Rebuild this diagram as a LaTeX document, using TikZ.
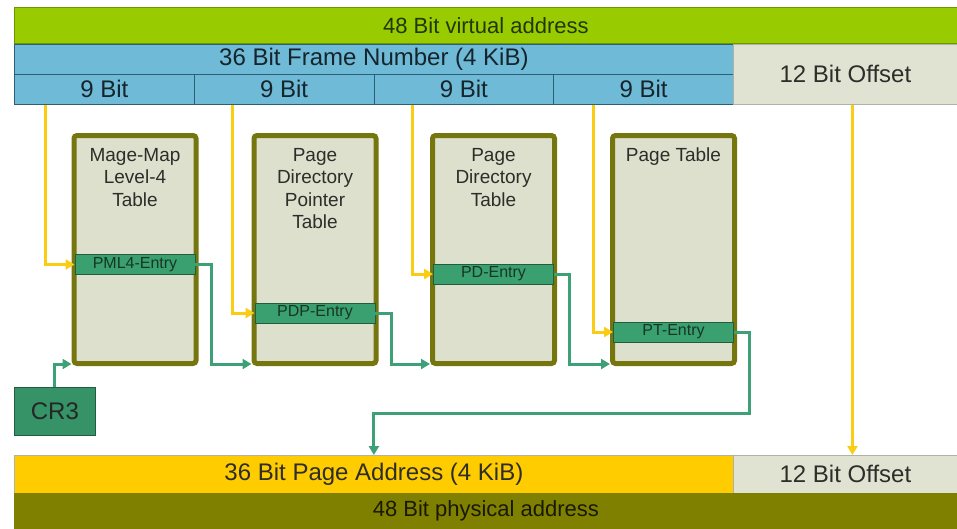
\documentclass[tikz,border=0pt]{standalone}
\usepackage{fontspec}
\setmainfont{Liberation Sans}
\usetikzlibrary{arrows.meta}

\definecolor{virtgreen}{RGB}{153,204,0}
\definecolor{virtedge}{RGB}{110,150,0}
\definecolor{virttext}{RGB}{34,54,6}
\definecolor{frameblue}{RGB}{111,186,214}
\definecolor{frameedge}{RGB}{45,95,115}
\definecolor{frametext}{RGB}{22,36,44}
\definecolor{offsetfill}{RGB}{224,226,210}
\definecolor{offsetedge}{RGB}{175,178,165}
\definecolor{tablefill}{RGB}{220,224,204}
\definecolor{tableedge}{RGB}{118,118,14}
\definecolor{entryfill}{RGB}{58,160,112}
\definecolor{entryedge}{RGB}{36,92,62}
\definecolor{linkgreen}{RGB}{62,160,118}
\definecolor{idxyellow}{RGB}{250,204,20}
\definecolor{pageyellow}{RGB}{255,204,0}
\definecolor{physolive}{RGB}{128,128,0}
\definecolor{labeltext}{RGB}{45,45,42}

\begin{document}
\begin{tikzpicture}[x=1pt,y=-1pt,
  bar/.style={draw=#1, line width=0.8pt, inner sep=0pt, anchor=north west},
  bigtxt/.style={font=\fontsize{24}{28}\selectfont},
  midtxt/.style={font=\fontsize{22}{26}\selectfont},
  tablebox/.style={draw=tableedge, line width=5pt, fill=tablefill, rounded corners=3pt,
    minimum width=122pt, minimum height=228pt, inner sep=0pt},
  tablelabel/.style={anchor=north, align=center, inner sep=0pt, text=labeltext,
    font=\fontsize{19}{22.5}\selectfont},
  entry/.style={fill=entryfill, draw=entryedge, line width=0.9pt, minimum width=120pt,
    minimum height=20pt, inner sep=0pt, text=entryedge!60!black,
    font=\fontsize{16}{16}\selectfont},
  idx/.style={draw=idxyellow, line width=3pt, -{Triangle[length=9pt,width=10pt]}},
  link/.style={draw=linkgreen, line width=3pt, -{Triangle[length=9pt,width=10pt]}}
]
\useasboundingbox (0,0) rectangle (957,528);

% virtual address layout
\node[bar=virtedge, fill=virtgreen, minimum width=943pt, minimum height=36pt, text=virttext, midtxt]
  (va) at (14,7) {48 Bit virtual address};
\node[bar=frameedge, fill=frameblue, minimum width=719pt, minimum height=30pt, text=frametext, bigtxt]
  (fn) at (14,44) {36 Bit Frame Number (4 KiB)};
\node[bar=frameedge, fill=frameblue, minimum width=179.75pt, minimum height=30pt, text=frametext, bigtxt]
  (b1) at (14,74) {9 Bit};
\node[bar=frameedge, fill=frameblue, minimum width=179.75pt, minimum height=30pt, text=frametext, bigtxt]
  (b2) at (193.75,74) {9 Bit};
\node[bar=frameedge, fill=frameblue, minimum width=179.75pt, minimum height=30pt, text=frametext, bigtxt]
  (b3) at (373.5,74) {9 Bit};
\node[bar=frameedge, fill=frameblue, minimum width=179.75pt, minimum height=30pt, text=frametext, bigtxt]
  (b4) at (553.25,74) {9 Bit};
\node[bar=offsetedge, fill=offsetfill, minimum width=224pt, minimum height=60pt, text=labeltext, bigtxt]
  (off) at (733,44) {12 Bit Offset};

% the four paging tables
\node[tablebox] (t1) at (135,249.5) {};
\node[tablebox] (t2) at (315,249.5) {};
\node[tablebox] (t3) at (493.5,249.5) {};
\node[tablebox] (t4) at (673.5,249.5) {};

\node[tablelabel] (t1lab) at ([yshift=-15pt]t1.north) {Mage-Map\\Level-4\\Table};
\node[tablelabel] (t2lab) at ([yshift=-15pt]t2.north) {Page\\Directory\\Pointer\\Table};
\node[tablelabel] (t3lab) at ([yshift=-15pt]t3.north) {Page\\Directory\\Table};
\node[tablelabel] (t4lab) at ([yshift=-15pt]t4.north) {Page Table};

\node[entry] (e1) at (135,264.5) {PML4-Entry};
\node[entry] (e2) at (315,313) {PDP-Entry};
\node[entry] (e3) at (493.5,274) {PD-Entry};
\node[entry] (e4) at (673.5,332) {PT-Entry};

% control register
\node[bar=entryedge, fill=entryfill!92!black, minimum width=81pt, minimum height=48pt,
  text=black!85, bigtxt] (cr3) at (14,387) {CR3};

% physical address layout
\node[bar=offsetedge, fill=pageyellow, minimum width=719pt, minimum height=38pt, text=labeltext, bigtxt]
  (pa) at (14,455) {36 Bit Page Address (4 KiB)};
\node[bar=offsetedge, fill=offsetfill, minimum width=224pt, minimum height=38pt, text=labeltext, bigtxt]
  (off2) at (733,455) {12 Bit Offset};
\node[bar=physolive, fill=physolive, minimum width=943pt, minimum height=35pt, text=black!80!physolive, midtxt]
  (phys) at (14,493) {48 Bit physical address};

% index bits select the entries
\draw[idx] ([xshift=31pt]b1.south west) |- (e1.west);
\draw[idx] ([xshift=39pt]b2.south west) |- (e2.west);
\draw[idx] ([xshift=39pt]b3.south west) |- (e3.west);
\draw[idx] ([xshift=40pt]b4.south west) |- (e4.west);
\draw[idx] ([xshift=7pt]off.south) -- ([xshift=7pt]off2.north);

% entries point to the next table
\draw[link] (cr3.north) |- ([yshift=2pt]t1.south west);
\draw[link] (e1.east) -- ++(16,0) |- ([yshift=2pt]t2.south west);
\draw[link] (e2.east) -- ++(16,0) |- ([yshift=2pt]t3.south west);
\draw[link] (e3.east) -- ++(16,0) |- ([yshift=2pt]t4.south west);
\draw[link] (e4.east) -- ++(16,0) -- ++(0,81) -| (pa.north);
\end{tikzpicture}
\end{document}
